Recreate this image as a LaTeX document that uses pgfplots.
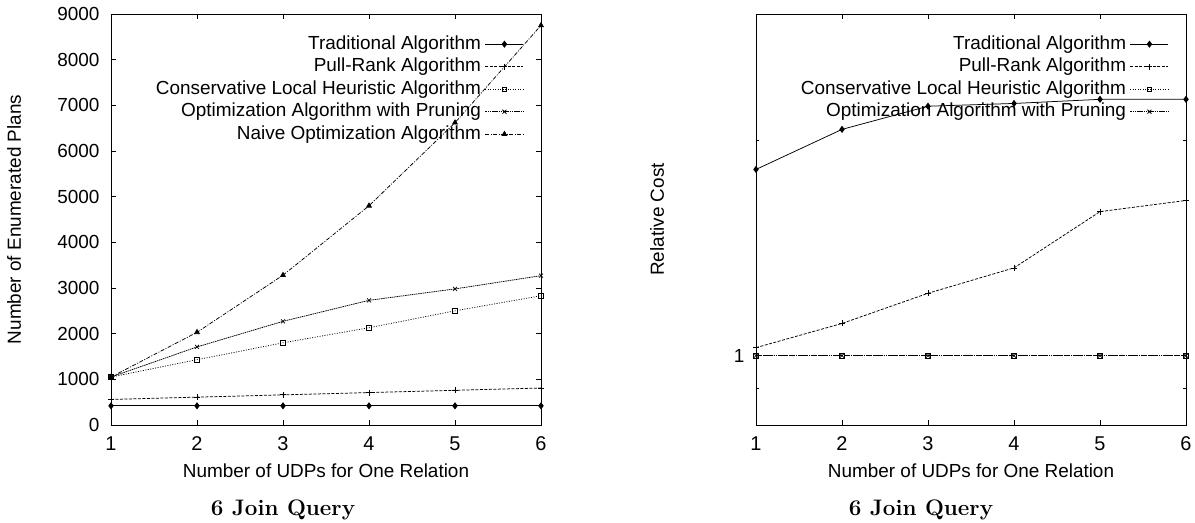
\documentclass[border=0pt]{standalone}
\usepackage{pgfplots}
\pgfplotsset{compat=1.18}
\usepackage{fontspec}
\setsansfont{Liberation Sans}
\renewcommand{\familydefault}{\sfdefault}

\pgfplotsset{
  udp/.style={
    scale only axis, width=430bp, height=411bp,
    xmin=1, xmax=6, xtick={1,2,3,4,5,6},
    tick align=inside, major tick length=5bp, minor tick length=3bp,
    axis line style={line width=0.9bp},
    every tick/.style={line width=0.7bp,black},
    yticklabel style={font=\fontsize{19}{21}\selectfont, xshift=-8bp},
    xticklabel style={font=\fontsize{20}{22}\selectfont, yshift=-8bp},
    label style={font=\fontsize{19}{21}\selectfont},
    xlabel={Number of UDPs for One Relation},
    xlabel style={at={(axis description cs:0.5,0)}, anchor=center, yshift=-46bp},
    /pgf/number format/assume math mode=true,
    /pgf/number format/1000 sep={},
    scaled ticks=false,
    legend cell align=right, legend plot pos=right,
    legend style={draw=none, fill=none, font=\fontsize{19}{21}\selectfont,
      at={(1,1)}, anchor=north east, xshift=-14bp, yshift=-17bp,
      row sep=0.5bp, nodes={inner ysep=2bp, inner xsep=4bp, text height=14bp, text depth=4bp}},
    legend image code/.code={\draw[mark repeat=2,mark phase=2,##1] plot coordinates {(0bp,0bp)(19bp,0bp)(38bp,0bp)};},
    every axis plot/.append style={line width=0.75bp, black, mark size=2.6bp},
  },
  trad/.style={solid, mark=diamond*, mark size=3bp, mark options={solid}},
  pull/.style={dash pattern=on 3bp off 1.5bp, mark=+, mark size=3bp, mark options={solid}},
  cons/.style={dash pattern=on 1bp off 1.5bp, mark=square, mark size=2.3bp, mark options={solid}},
  prun/.style={dash pattern=on 1.5bp off 0.7bp, mark=x, mark size=2.8bp, mark options={solid}},
  naiv/.style={dash pattern=on 4bp off 1.5bp on 1bp off 1.5bp, mark=triangle*, mark size=2.8bp, mark options={solid}},
}

\begin{document}
\begin{tikzpicture}[x=1bp,y=1bp]
\useasboundingbox (-111bp,-98bp) rectangle (1084bp,425bp);

\begin{axis}[udp, at={(0bp,0bp)}, anchor=south west,
  ymin=0, ymax=9000, ytick={0,1000,...,9000},
  ylabel={Number of Enumerated Plans},
  ylabel style={at={(axis description cs:-0.2256,0.5)}, anchor=center}]
\addplot[trad] coordinates {(1,420)(2,420)(3,420)(4,420)(5,420)(6,420)};
\addlegendentry{Traditional Algorithm}
\addplot[pull] coordinates {(1,560)(2,610)(3,660)(4,710)(5,760)(6,810)};
\addlegendentry{Pull-Rank Algorithm}
\addplot[cons] coordinates {(1,1050)(2,1430)(3,1800)(4,2130)(5,2500)(6,2830)};
\addlegendentry{Conservative Local Heuristic Algorithm}
\addplot[prun] coordinates {(1,1050)(2,1710)(3,2270)(4,2730)(5,2980)(6,3270)};
\addlegendentry{Optimization Algorithm with Pruning}
\addplot[naiv] coordinates {(1,1050)(2,2030)(3,3280)(4,4800)(5,6620)(6,8750)};
\addlegendentry{Naive Optimization Algorithm}
\end{axis}

\begin{axis}[udp, at={(645bp,0bp)}, anchor=south west,
  ymode=log, ymin=0.8, ymax=3, ytick={1}, yticklabels={1},
  minor ytick={0.9,2},
  ylabel={Relative Cost},
  ylabel style={at={(axis description cs:-0.23,0.5)}, anchor=center}]
\addplot[trad] coordinates {(1,1.82)(2,2.07)(3,2.23)(4,2.25)(5,2.28)(6,2.28)};
\addlegendentry{Traditional Algorithm}
\addplot[pull] coordinates {(1,1.026)(2,1.109)(3,1.222)(4,1.326)(5,1.589)(6,1.647)};
\addlegendentry{Pull-Rank Algorithm}
\addplot[cons] coordinates {(1,1)(2,1)(3,1)(4,1)(5,1)(6,1)};
\addlegendentry{Conservative Local Heuristic Algorithm}
\addplot[prun] coordinates {(1,1)(2,1)(3,1)(4,1)(5,1)(6,1)};
\addlegendentry{Optimization Algorithm with Pruning}
\end{axis}

\node[anchor=base, font=\rmfamily\bfseries\fontsize{22.5}{25}\selectfont] at (172bp,-90bp) {6 Join Query};
\node[anchor=base, font=\rmfamily\bfseries\fontsize{22.5}{25}\selectfont] at (810bp,-90bp) {6 Join Query};
\end{tikzpicture}
\end{document}
